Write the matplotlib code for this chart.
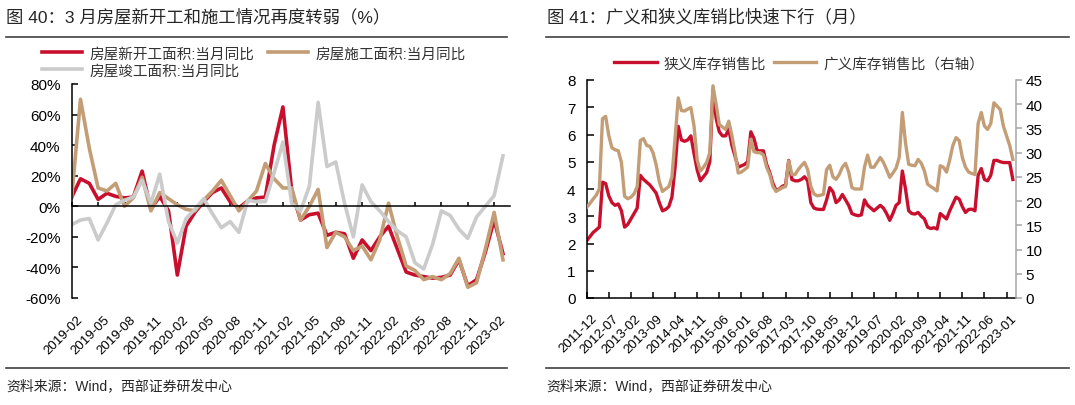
# two panels: housing starts / construction yoy, and inventory-to-sales ratios
import matplotlib as mp
mp.use('agg')
import matplotlib.pyplot as plt
from matplotlib.lines import Line2D
from matplotlib.transforms import ScaledTranslation

plt.rcParams['font.family'] = ['Liberation Sans', 'Noto Sans CJK SC', 'DejaVu Sans']

RED = '#C8102E'
TAN = '#C39D76'
GREY = '#CBCBCB'
INK = '#262626'

# left chart, monthly yoy %, 2019-02 .. 2023-03
starts_yoy = [6, 18, 15, 4.5, 8.5, 6.5, 5.5, 6, 23, -2,
              6.5, -3, -45, -13, -4, 3, 9, 12, 3, -1,
              3.5, 5.5, 6, 40, 65, 10, -9, -5.5, -4.5, -19,
              -17, -18, -34, -22, -29, -20, -13, -28, -43, -45,
              -46, -47, -46.5, -45, -35, -52, -48, -30, -9, -31]
construction_yoy = [6, 70, 38, 12, 10, 15, 0, 5.5, 19, -3,
                    9, 5, 1, -2, -3, 4, 10, 17, 7, -3,
                    3.5, 10, 28, 18, 12, 12, -9, 0, 11, -27,
                    -17, -20, -29, -26, -35, -22, 2, -20, -39, -42,
                    -48, -46, -48, -44, -34, -53, -50, -28, -4, -35]
completed_yoy = [-12, -9, -8, -22, -11, 1, 4, 6, 17, 2,
                 21, -10, -24, -8, -2, 5, -5, -14, -10, -17,
                 4, 3, 3, 22, 42, 2, -3, 13, 68, 26,
                 29, 2, -20, 14, 3, -3, -10, -16, -20, -37,
                 -41, -25, -3, -6, -15, -21, -7, 0, 7, 33]
left_labels = ['2019-02', '2019-05', '2019-08', '2019-11', '2020-02', '2020-05',
               '2020-08', '2020-11', '2021-02', '2021-05', '2021-08', '2021-11',
               '2022-02', '2022-05', '2022-08', '2022-11', '2023-02']
left_yticks = [-60, -40, -20, 0, 20, 40, 60, 80]

# right chart, monthly, 2011-12 .. 2023-03
narrow_ratio = [2.1, 2.25, 2.4, 2.5, 2.6, 4.25, 4.2, 3.75, 3.5, 3.4,
                3.45, 3.2, 2.6, 2.7, 2.9, 3.1, 3.3, 4.5, 4.35, 4.25,
                4.15, 4.0, 3.85, 3.5, 3.2, 3.25, 3.35, 3.7, 4.8, 6.3,
                5.8, 5.75, 5.8, 5.95, 5.3, 4.7, 4.3, 4.45, 4.6, 5.0,
                7.65, 6.6, 6.1, 5.95, 5.95, 6.2, 5.6, 5.2, 4.8, 4.85,
                4.9, 5.0, 6.1, 5.85, 5.4, 5.4, 5.4, 4.9, 4.6, 4.2,
                3.95, 4.0, 4.1, 4.15, 5.05, 4.35, 4.3, 4.3, 4.35, 4.45,
                4.3, 3.5, 3.3, 3.26, 3.25, 3.25, 3.6, 4.05, 3.9, 3.5,
                3.6, 3.8, 3.6, 3.4, 3.1, 3.05, 3.02, 3.05, 3.6, 3.4,
                3.3, 3.2, 3.3, 3.4, 3.3, 3.1, 2.85, 3.1, 3.4, 3.5,
                4.66, 4.0, 3.2, 3.1, 3.08, 3.14, 3.0, 2.9, 2.6, 2.55,
                2.58, 2.53, 3.1, 3.0, 2.9, 3.2, 3.45, 3.7, 3.63, 3.35,
                3.14, 3.25, 3.26, 3.2, 4.5, 4.75, 4.35, 4.3, 4.5, 5.05,
                5.05, 5.0, 4.97, 4.97, 4.97, 4.35]
broad_ratio = [18.7, 19.5, 20.4, 21.2, 22.5, 37.0, 37.5, 33.5, 31.0, 30.6,
               30.4, 28.0, 21.0, 20.5, 20.8, 21.5, 23.0, 32.5, 32.9, 31.5,
               31.3, 30.0, 27.5, 24.0, 22.0, 22.5, 23.0, 25.0, 33.0, 41.3,
               38.7, 38.6, 39.0, 39.3, 35.5, 28.5, 26.2, 27.0, 28.0, 30.0,
               43.8, 40.0, 35.8, 35.3, 34.8, 36.5, 33.5, 30.0, 25.8, 26.0,
               26.5, 27.0, 32.8, 30.2, 30.0, 30.0, 29.5, 27.0, 25.5, 23.0,
               22.0, 22.4, 22.8, 23.0, 28.3, 25.5, 25.5, 26.5, 27.3, 28.0,
               26.5, 23.0, 21.5, 21.1, 21.2, 21.4, 26.5, 27.4, 25.0, 24.5,
               25.5, 27.0, 27.8, 26.0, 22.8, 22.5, 22.5, 22.5, 27.0, 29.5,
               27.0, 27.0, 28.0, 29.0, 28.0, 26.5, 24.9, 25.8, 26.8, 29.0,
               38.3, 32.0, 27.6, 27.4, 27.3, 28.6, 27.8, 26.2, 23.5, 23.0,
               22.6, 22.1, 27.3, 27.0, 26.0, 28.5, 31.5, 33.1, 32.5, 29.0,
               27.0, 26.0, 25.7, 25.5, 36.0, 38.3, 35.5, 34.8, 36.0, 40.3,
               39.6, 38.9, 35.5, 33.5, 31.5, 28.6]
right_labels = ['2011-12', '2012-07', '2013-02', '2013-09', '2014-04', '2014-11',
                '2015-06', '2016-01', '2016-08', '2017-03', '2017-10', '2018-05',
                '2018-12', '2019-07', '2020-02', '2020-09', '2021-04', '2021-11',
                '2022-06', '2023-01']


def hline(fig, x0, x1, y, W, H):
    fig.add_artist(Line2D([x0 / W, x1 / W], [1 - y / H, 1 - y / H],
                          color='#404040', lw=1.2))


def nudge(fig, labels, dx_px):
    # shift rotated tick labels a few pixels to the right
    off = ScaledTranslation(dx_px / fig.dpi, 0, fig.dpi_scale_trans)
    for t in labels:
        t.set_transform(t.get_transform() + off)


def main():
    W, H = 1075, 406
    fig = plt.figure(figsize=(W / 100, H / 100), dpi=100)

    # titles, rules, source lines
    fig.text(6 / W, 1 - 17 / H, '图 40：3 月房屋新开工和施工情况再度转弱（%）',
             fontsize=12.5, color=INK, va='center')
    fig.text(547 / W, 1 - 17 / H, '图 41：广义和狭义库销比快速下行（月）',
             fontsize=12.5, color=INK, va='center')
    hline(fig, 6, 507, 38, W, H)
    hline(fig, 546, 1069, 38, W, H)
    hline(fig, 6, 507, 369, W, H)
    hline(fig, 546, 1069, 369, W, H)
    fig.text(6 / W, 1 - 386 / H, '资料来源：Wind，西部证券研发中心',
             fontsize=10, color=INK, va='center')
    fig.text(546 / W, 1 - 386 / H, '资料来源：Wind，西部证券研发中心',
             fontsize=10, color=INK, va='center')

    # ---- left panel
    ax1 = fig.add_axes([71.7 / W, 1 - 299 / H, (510 - 71.7) / W, 214 / H])
    x1 = list(range(len(starts_yoy)))
    l_red, = ax1.plot(x1, starts_yoy, color=RED, lw=2.6, solid_joinstyle='round')
    l_tan, = ax1.plot(x1, construction_yoy, color=TAN, lw=2.6, solid_joinstyle='round')
    l_grey, = ax1.plot(x1, completed_yoy, color=GREY, lw=2.6, solid_joinstyle='round')
    ax1.set_xlim(0, 49.8)
    ax1.set_ylim(-60, 80)
    for s in ['top', 'right']:
        ax1.spines[s].set_visible(False)
    ax1.spines['bottom'].set_position(('data', 0))
    ax1.spines['bottom'].set_linewidth(1.1)
    ax1.spines['left'].set_linewidth(1.1)
    ax1.set_yticks(left_yticks, labels=['{}%'.format(v) for v in left_yticks])
    ax1.tick_params(axis='y', direction='in', length=4, width=1.1, pad=8,
                    labelsize=11, colors='black')
    ax1.set_xticks(range(0, 49, 3))
    ax1.tick_params(axis='x', direction='in', length=3, width=1.1, labelbottom=False)
    sec = ax1.secondary_xaxis('bottom')
    sec.spines['bottom'].set_visible(False)
    sec.set_xticks(range(0, 49, 3), labels=left_labels, rotation=45,
                   ha='right', rotation_mode='anchor')
    sec.tick_params(length=0, pad=11, labelsize=9.5)
    nudge(fig, sec.get_xticklabels(), 5)
    ax1.legend([l_red, l_grey, l_tan],
               ['房屋新开工面积:当月同比', '房屋竣工面积:当月同比', '房屋施工面积:当月同比'],
               ncol=2, loc='upper left', bbox_to_anchor=(35 / W, 1 - 40 / H),
               bbox_transform=fig.transFigure, frameon=False, fontsize=10.5,
               handlelength=2.75, handletextpad=0.5, columnspacing=0.9,
               labelspacing=0.2, borderpad=0, labelcolor='#333333')

    # ---- right panel
    ax2 = fig.add_axes([586.7 / W, 1 - 299 / H, (1016 - 586.7) / W, 218 / H])
    x2 = list(range(len(narrow_ratio)))
    r_red, = ax2.plot(x2, narrow_ratio, color=RED, lw=2.4, solid_joinstyle='round')
    ax2.set_xlim(0, 136)
    ax2.set_ylim(0, 8)
    ax2.set_yticks(range(0, 9))
    ax2.tick_params(axis='y', direction='in', length=5, width=1.1, pad=8,
                    labelsize=11, colors='black')
    ax2.set_xticks(range(0, 134, 7), labels=right_labels, rotation=45,
                   ha='right', rotation_mode='anchor')
    ax2.tick_params(axis='x', direction='in', length=4, width=1.1, pad=10,
                    labelsize=9.5)
    nudge(fig, ax2.get_xticklabels(), 4)
    ax2.spines['top'].set_visible(False)
    ax2.spines['right'].set_visible(False)
    ax2.spines['left'].set_linewidth(1.1)
    ax2.spines['bottom'].set_linewidth(1.1)

    ax3 = ax2.twinx()
    r_tan, = ax3.plot(x2, broad_ratio, color=TAN, lw=2.4, solid_joinstyle='round')
    ax3.set_ylim(0, 45)
    ax3.set_yticks(range(0, 46, 5))
    for s in ['top', 'left', 'bottom']:
        ax3.spines[s].set_visible(False)
    ax3.spines['right'].set_color('#A6A6A6')
    ax3.spines['right'].set_linewidth(1.1)
    ax3.tick_params(axis='y', direction='out', length=4, width=1.1, pad=3,
                    labelsize=11, color='#A6A6A6', labelcolor='black')
    ax3.legend([r_red, r_tan], ['狭义库存销售比', '广义库存销售比（右轴）'],
               ncol=2, loc='upper left', bbox_to_anchor=(607 / W, 1 - 50 / H),
               bbox_transform=fig.transFigure, frameon=False, fontsize=10.5,
               handlelength=2.9, handletextpad=0.5, columnspacing=0.5,
               borderpad=0, labelcolor='#333333')

    fig.savefig('out.png', dpi=100)


if __name__ == '__main__':
    main()
